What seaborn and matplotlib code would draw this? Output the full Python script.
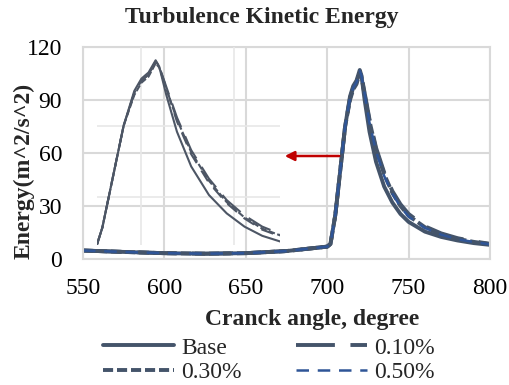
import numpy as np
import pandas as pd
import matplotlib
matplotlib.use("Agg")
import matplotlib.pyplot as plt
import seaborn as sns

angle = [550, 575, 600, 625, 650, 675, 700, 702, 705, 708, 711, 714, 716, 718, 720, 721,
         723, 726, 730, 735, 740, 745, 750, 760, 770, 780, 790, 800]
base = [4.8, 4.0, 3.3, 3.0, 3.3, 4.5, 7.0, 8.5, 25, 50, 75, 92, 98, 101, 107, 104,
        90, 72, 55, 41, 32, 25.5, 21, 15.5, 12.5, 10.5, 9.0, 8.0]
p010 = [4.8, 4.0, 3.3, 3.0, 3.3, 4.5, 7.0, 8.5, 25, 50, 75, 91, 97, 100, 106, 104,
        94, 79, 63, 49, 38.5, 31, 25.5, 18.5, 14.5, 11.8, 10.0, 8.6]
p030 = [4.8, 4.0, 3.3, 3.0, 3.3, 4.5, 7.0, 8.5, 25, 50, 75, 90, 96, 99, 105.5, 103.5,
        93, 78, 62, 48, 37.5, 30, 24.5, 18, 14, 11.4, 9.7, 8.4]
p050 = [4.8, 4.0, 3.3, 3.0, 3.3, 4.5, 7.0, 8.5, 25, 50, 75, 91, 97, 100, 106.5, 104,
        93.5, 77, 61, 47, 37, 29.5, 24, 17.6, 13.8, 11.2, 9.6, 8.3]
series_names = ["Base", "0.10%", "0.30%", "0.50%"]
x_ticks = [550, 600, 650, 700, 750, 800]
y_ticks = [0, 30, 60, 90, 120]

sns.set_theme(style="white")
plt.rcParams['font.family'] = ['Liberation Serif', 'DejaVu Serif']

FS = 17
styles = {
    "Base": dict(color="#44546A", dashes=None, lw=2.8),
    "0.10%": dict(color="#44546A", dashes=(10, 4), lw=2.8),
    "0.30%": dict(color="#44546A", dashes=(2.6, 1.0), lw=2.8),
    "0.50%": dict(color="#2F5597", dashes=(5, 3.5), lw=1.8),
}
data = {"Base": base, "0.10%": p010, "0.30%": p030, "0.50%": p050}

fig = plt.figure(figsize=(5.1, 3.85), dpi=100)
ax = fig.add_axes([83/510, 1-259/385, (490-83)/510, (259-47)/385])

for name in series_names:
    st = styles[name]
    df = pd.DataFrame({"angle": angle, "val": data[name]})
    sns.lineplot(data=df, x="angle", y="val", ax=ax, color=st["color"], lw=st["lw"], legend=False)
    line = ax.lines[-1]
    line.set_label(name)
    if st["dashes"]:
        line.set_dashes(st["dashes"])

ax.set_xlim(550, 800)
ax.set_ylim(0, 120)
ax.set_xticks(x_ticks)
ax.set_yticks(y_ticks)
ax.grid(True, color="#D9D9D9", lw=1.5)
ax.set_axisbelow(True)
for s in ax.spines.values():
    s.set_color("#D9D9D9")
    s.set_linewidth(1.5)
ax.tick_params(axis="x", labelsize=FS, length=0, pad=14, colors="black")
ax.tick_params(axis="y", labelsize=FS, length=0, pad=15, colors="black")
ax.set_xlabel("")
ax.set_ylabel("")

fig.text(312/510, 1-320/385, "Cranck angle, degree", ha="center", va="center",
         fontsize=FS, fontweight="bold")
fig.text(24/510, 1-171/385, "Energy(m^2/s^2)", ha="center", va="center",
         fontsize=FS, fontweight="bold", rotation=90)

h = {l.get_label(): l for l in ax.lines[:4]}
order = ["Base", "0.30%", "0.10%", "0.50%"]
leg = fig.legend([h[n] for n in order], order, loc="center", bbox_to_anchor=(269/510, 1-360/385),
                 ncol=2, frameon=False, fontsize=FS, handlelength=3.0, columnspacing=2.3,
                 labelspacing=0.12, handletextpad=0.3, borderpad=0.1)

fig.text(262/510, 1-18/385, "Turbulence Kinetic Energy", ha="center", va="center",
         fontsize=FS, fontweight="bold")

# inset (zoom of the peak)
ins = fig.add_axes([97/510, 1-245/385, (280-97)/510, (245-47)/385])
ins.patch.set_alpha(0)
for name in series_names:
    st = styles[name]
    df = pd.DataFrame({"angle": angle, "val": data[name]})
    sns.lineplot(data=df, x="angle", y="val", ax=ins, color="#4d5665", lw=1.5, legend=False)
    if st["dashes"]:
        ins.lines[-1].set_dashes((st["dashes"][0]*1.2, st["dashes"][1]*1.2))
ins.set_xlim(703.5, 755)
ins.set_ylim(16.5, 113.5)
ins.set_xticks([716, 742])
ins.set_yticks([40, 75])
ins.grid(True, color="#E8E8E8", lw=1.2)
ins.tick_params(length=0, labelbottom=False, labelleft=False)
ins.set_xlabel("")
ins.set_ylabel("")
for s in ins.spines.values():
    s.set_visible(False)

ax.annotate("", xy=(282/510, 1-156/385), xytext=(342/510, 1-156/385),
            xycoords="figure fraction", textcoords="figure fraction",
            arrowprops=dict(arrowstyle="-|>", color="#C00000", lw=1.8, mutation_scale=14))

fig.savefig("out.png", dpi=100)
